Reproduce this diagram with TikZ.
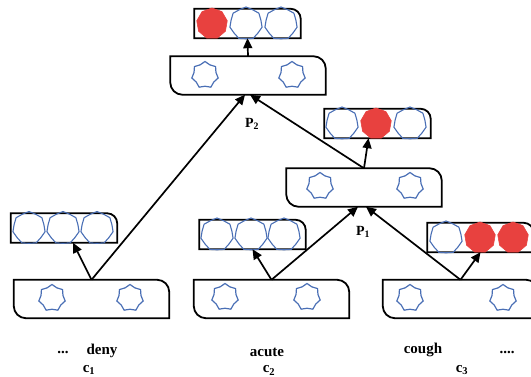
\documentclass[tikz,border=0pt]{standalone}
\usepackage{fontspec}
\setmainfont{Liberation Serif}
\usetikzlibrary{shapes.geometric,arrows.meta,calc}

\definecolor{hexblue}{HTML}{4A6FB5}
\definecolor{hexred}{HTML}{E8413F}

% Outline with rounded top-right and bottom-left corners
\newcommand\snipframe[1]{%
  \draw[frame] (#1.north west) -- ([xshift=-12pt]#1.north east)
    .. controls ([xshift=-5.4pt]#1.north east) and ([yshift=-5.4pt]#1.north east) .. ([yshift=-12pt]#1.north east)
    -- (#1.south east) -- ([xshift=12pt]#1.south west)
    .. controls ([xshift=5.4pt]#1.south west) and ([yshift=5.4pt]#1.south west) .. ([yshift=12pt]#1.south west)
    -- cycle;}
% Outline with a rounded top-right corner only
\newcommand\tabframe[1]{%
  \draw[frame] (#1.north west) -- ([xshift=-10pt]#1.north east)
    .. controls ([xshift=-4.5pt]#1.north east) and ([yshift=-4.5pt]#1.north east) .. ([yshift=-10pt]#1.north east)
    -- (#1.south east) -- (#1.south west) -- cycle;}

\tikzset{
  frame/.style={line width=1.8pt, black},
  bigbox/.style={rectangle, inner sep=0pt, minimum width=155pt, minimum height=38pt},
  cellbox/.style={rectangle, inner sep=0pt, minimum width=106pt, minimum height=29pt},
  hexbig/.style={star, star points=7, star point ratio=1.2, minimum size=27pt,
                 inner sep=0pt, draw=hexblue, line width=1.2pt},
  cell/.style={star, star points=7, star point ratio=1.08, minimum size=33pt,
               inner sep=0pt, draw=hexblue, line width=1.1pt},
  hot/.style={regular polygon, regular polygon sides=9, minimum size=31pt,
              inner sep=0pt, fill=hexred, draw=hexred, line width=0.6pt},
  conn/.style={line width=1.7pt, -{Triangle[length=10pt,width=9pt]}},
  word/.style={font=\fontsize{15}{18}\selectfont\bfseries, inner sep=0pt},
  plabel/.style={font=\fontsize{14}{17}\selectfont\bfseries, inner sep=0pt}
}

\begin{document}
\begin{tikzpicture}[x=1pt, y=-1pt]
  \useasboundingbox (0,0) rectangle (531,377);
  \clip (0,0) rectangle (531,377);

  % word-level boxes
  \node[bigbox] (b1) at (91.5,299) {};
  \node[bigbox] (b2) at (271.5,299) {};
  \node[bigbox] (b3) at (460.5,299) {};
  % composed phrase boxes
  \node[bigbox] (p1) at (364,187.5) {};
  \node[bigbox] (p2) at (248,75.5) {};
  % label-cell boxes
  \node[cellbox] (s1) at (64,228) {};
  \node[cellbox] (s2) at (252.5,234.5) {};
  \node[cellbox] (s3) at (480.5,237.5) {};
  \node[cellbox] (t1) at (377.5,123.5) {};
  \node[cellbox] (t2) at (247.5,23.5) {};

  \foreach \n in {b1,b2,b3,p1,p2} {\snipframe{\n}}
  \foreach \n in {s1,s2,s3,t1,t2} {\tabframe{\n}}

  % vectors inside the large boxes
  \node[hexbig] (b1a) at (52,298) {};
  \node[hexbig] (b1b) at (130,298) {};
  \node[hexbig] (b2a) at (225,297) {};
  \node[hexbig] (b2b) at (307,297) {};
  \node[hexbig] (b3a) at (410,298) {};
  \node[hexbig] (b3b) at (503,298) {};
  \node[hexbig] (p1a) at (320,186) {};
  \node[hexbig] (p1b) at (410,186) {};
  \node[hexbig] (p2a) at (205,75) {};
  \node[hexbig] (p2b) at (292,75) {};

  % label cells
  \node[cell] (s1a) at (29,228) {};
  \node[cell] (s1b) at (63,228) {};
  \node[cell] (s1c) at (97,228) {};
  \node[cell] (s2a) at (217,234.5) {};
  \node[cell] (s2b) at (251,234.5) {};
  \node[cell] (s2c) at (284,234.5) {};
  \node[cell] (s3a) at (446,237.5) {};
  \node[hot]  (s3b) at (480,237.5) {};
  \node[hot]  (s3c) at (513,237.5) {};
  \node[cell] (t1a) at (342,123.5) {};
  \node[hot]  (t1b) at (376,123.5) {};
  \node[cell] (t1c) at (410,123.5) {};
  \node[hot]  (t2a) at (212,23.5) {};
  \node[cell] (t2b) at (246,23.5) {};
  \node[cell] (t2c) at (281,23.5) {};

  % connectors
  \draw[conn] (b1.north) -- ([xshift=9pt]s1.south);
  \draw[conn] (b1.north) -- ([xshift=-3pt]p2.south);
  \draw[conn] (b2.north) -- (s2.south);
  \draw[conn] (b2.north) -- ([xshift=-6pt]p1.south);
  \draw[conn] (b3.north) -- (s3.south);
  \draw[conn] (b3.north) -- ([xshift=2pt]p1.south);
  \draw[conn] (p1.north) -- ([xshift=-9pt]t1.south);
  \draw[conn] (p1.north) -- ([xshift=2pt]p2.south);
  \draw[conn] (p2.north) -- (t2.south);

  % phrase labels
  \node[plabel] (lp2) at (252,124) {P$_{\mathbf 2}$};
  \node[plabel] (lp1) at (363,232) {P$_{\mathbf 1}$};

  % words and their indices
  \node[word] (dots1) at (63,352) {...};
  \node[word] (w1) at (102,351) {deny};
  \node[word] (w2) at (267,352) {acute};
  \node[word] (w3) at (423,350) {cough};
  \node[word] (dots2) at (507,352) {....};
  \node[word] (c1) at (89,370) {c$_{\mathbf 1}$};
  \node[word] (c2) at (269,370.5) {c$_{\mathbf 2}$};
  \node[word] (c3) at (462,370) {c$_{\mathbf 3}$};
\end{tikzpicture}
\end{document}
